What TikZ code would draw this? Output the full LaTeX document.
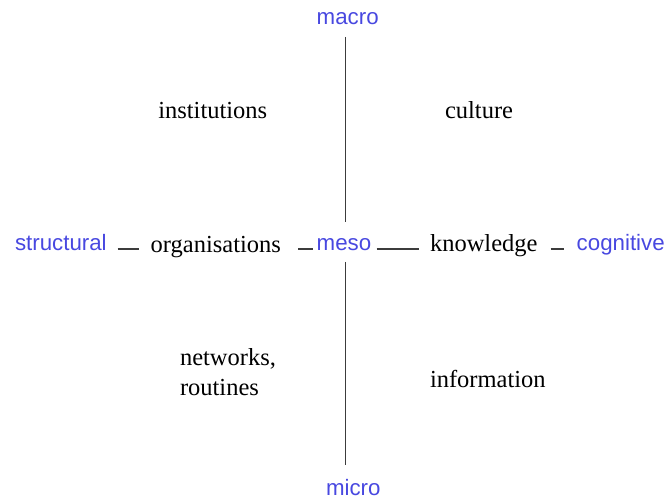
\documentclass[tikz,border=0pt]{standalone}
\usepackage{fontspec}
\setmainfont{Liberation Serif}
\newfontfamily\axisfont{Liberation Sans}
\definecolor{axisblue}{RGB}{72,72,224}
\definecolor{linegray}{RGB}{60,60,60}
\begin{document}
\begin{tikzpicture}[x=1pt,y=-1pt,
  pole/.style={inner sep=0pt, outer sep=0pt, anchor=base west,
    text=axisblue, font=\axisfont\fontsize{22.3}{27}\selectfont},
  term/.style={inner sep=0pt, outer sep=0pt, anchor=base west,
    text=black, font=\fontsize{24.5}{30}\selectfont},
  axis/.style={draw=linegray, line width=1.1pt},
  link/.style={draw=linegray, line width=1.1pt}]
\useasboundingbox (0,0) rectangle (669,500);

% poles of the two axes
\node[pole] (macro) at (316.7,25) {macro};
\node[pole] (micro) at (326,495.3) {micro};
\node[pole] (meso) at (316.7,250) {meso};
\node[pole] (structural) at (15,250.5) {structural};
\node[pole] (cognitive) at (576.7,250.7) {cognitive};

% the four quadrants and the middle row
\node[term] (institutions) at (158.3,118.3) {institutions};
\node[term] (culture) at (445,118.3) {culture};
\node[term] (organisations) at (150.7,252.3) {organisations};
\node[term] (knowledge) at (430,251.7) {knowledge};
\node[term, align=left] (networks) at (180,395) {networks,\\routines};
\node[term] (information) at (430,387.7) {information};

% crossing point of the axes
\coordinate (hub) at (345.7,249);

% vertical axis
\draw[axis, shorten <=11.7pt, shorten >=15.6pt] (macro.south -| hub) -- (meso.north -| hub);
\draw[axis, shorten <=11.7pt, shorten >=14.5pt] (meso.south -| hub) -- (micro.north -| hub);

% horizontal links
\draw[link, shorten <=11pt, shorten >=12pt] (structural.east |- hub) -- (organisations.west |- hub);
\draw[link, shorten <=17.3pt, shorten >=3.4pt] (organisations.east |- hub) -- (meso.west |- hub);
\draw[link, shorten <=5.3pt, shorten >=10.7pt] (meso.east |- hub) -- (knowledge.west |- hub);
\draw[link, shorten <=13pt, shorten >=12.7pt] (knowledge.east |- hub) -- (cognitive.west |- hub);
\end{tikzpicture}
\end{document}
